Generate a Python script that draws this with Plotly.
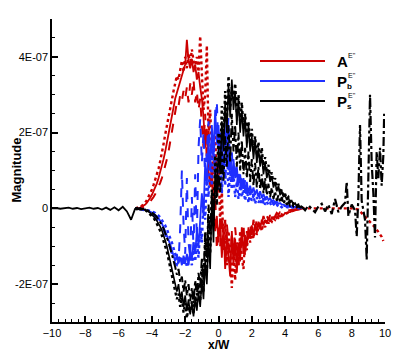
import numpy as np
import plotly.graph_objects as go

# ---------------- data (values in units of 1E-07) ----------------
X_ACTIVE = np.round(np.linspace(-5, 5, 101), 1)

A_SOLID = [0.0, 0.0, 0.01, 0.02, 0.04, 0.07, 0.1, 0.15, 0.2, 0.28,
           0.36, 0.45, 0.55, 0.66, 0.8, 0.95, 1.1, 1.3, 1.5, 1.75,
           2.0, 2.2, 2.45, 2.7, 2.9, 3.05, 3.2, 3.35, 3.5, 3.7,
           3.8, 4.45, 3.9, 3.7, 3.95, 3.6, 3.8, 3.4, 3.6, 3.2,
           2.9, 2.4, 1.6, 2.1, 1.0, 0.6, 1.2, 0.1, -0.6, -0.2,
           -0.9, -0.3, -1.3, -0.5, -1.6, -0.7, -1.2, -1.8, -0.6, -1.5,
           -0.8, -1.7, -0.9, -1.4, -0.5, -1.2, -0.7, -1.0, -0.5, -0.8,
           -0.45, -0.75, -0.4, -0.65, -0.35, -0.55, -0.3, -0.45, -0.3, -0.4,
           -0.25, -0.35, -0.22, -0.3, -0.2, -0.26, -0.18, -0.22, -0.15, -0.18,
           -0.12, -0.14, -0.1, -0.1, -0.07, -0.06, -0.05, -0.04, -0.03, -0.02, -0.01]

A_DOT = [0.0, 0.01, 0.02, 0.04, 0.07, 0.1, 0.15, 0.22, 0.3, 0.4,
         0.5, 0.62, 0.75, 0.9, 1.05, 1.25, 1.45, 1.7, 1.95, 2.2,
         2.45, 2.65, 2.9, 3.1, 3.3, 3.5, 3.4, 3.7, 3.9, 3.6,
         4.0, 3.7, 4.1, 3.8, 4.2, 3.9, 3.7, 4.0, 3.6, 4.55,
         3.3, 2.6, 3.0, 4.3, 1.9, 2.6, 1.5, 0.9, 2.1, 0.4,
         1.2, -0.4, 0.5, -1.1, -0.3, -1.5, -0.6, -1.1, -2.1, -1.0,
         -1.9, -0.9, -1.5, -0.6, -1.3, -1.6, -0.7, -1.1, -0.6, -0.9,
         -0.6, -0.8, -0.45, -0.7, -0.5, -0.4, -0.6, -0.35, -0.5, -0.3,
         -0.4, -0.3, -0.35, -0.25, -0.3, -0.22, -0.25, -0.18, -0.2, -0.15,
         -0.14, -0.12, -0.1, -0.08, -0.07, -0.05, -0.04, -0.03, -0.02, -0.02, 0.0]

A_DASH = [0.0, 0.0, 0.0, 0.01, 0.02, 0.04, 0.06, 0.09, 0.13, 0.18,
          0.24, 0.3, 0.38, 0.47, 0.57, 0.68, 0.8, 0.95, 1.1, 1.3,
          1.5, 1.75, 2.0, 2.3, 2.6, 2.8, 2.7, 3.0, 2.85, 3.1,
          2.9, 3.2, 2.8, 3.3, 3.0, 3.4, 2.8, 3.1, 2.6, 2.9,
          2.2, 1.6, 2.5, 1.2, 1.8, 0.5, 1.1, -0.3, 0.4, -1.1,
          -0.5, -1.0, -0.2, -0.8, -1.3, -0.4, -0.9, -1.4, -0.7, -1.2,
          -0.5, -1.1, -1.5, -0.7, -1.0, -0.4, -1.3, -0.6, -0.9, -0.4,
          -0.7, -0.3, -0.6, -0.25, -0.5, -0.3, -0.4, -0.2, -0.35, -0.2,
          -0.3, -0.18, -0.25, -0.15, -0.2, -0.12, -0.16, -0.1, -0.12, -0.08,
          -0.08, -0.06, -0.05, -0.04, -0.03, -0.02, -0.02, -0.01, -0.01, 0.0, 0.0]

X_A_TAIL = [5.0, 6.0, 7.0, 8.0, 8.4, 8.6, 8.8, 9.0, 9.2, 9.4, 9.6, 9.8, 9.9]
A_TAIL = [0.0, 0.0, 0.0, 0.0, -0.03, -0.12, -0.22, -0.3, -0.4, -0.5, -0.62, -0.75, -0.86]

PB_SOLID = [0.0, 0.0, -0.01, -0.01, -0.02, -0.03, -0.04, -0.05, -0.07, -0.09,
            -0.11, -0.14, -0.17, -0.21, -0.26, -0.32, -0.4, -0.5, -0.6, -0.7,
            -0.82, -0.95, -1.1, -1.25, -1.4, -1.2, -1.45, -1.3, -1.5, -1.25,
            -1.45, -1.2, -1.5, -1.1, -1.35, -0.9, -1.2, -0.6, -1.0, -0.3,
            0.4, -0.2, 1.2, 0.6, 1.8, 1.0, 2.2, 1.4, 2.6, 1.7,
            2.2, 1.2, 1.9, 0.9, 1.6, 2.4, 1.0, 1.5, 0.7, 1.3,
            0.8, 1.1, 0.6, 0.9, 0.5, 0.8, 0.45, 0.7, 0.4, 0.6,
            0.4, 0.55, 0.35, 0.5, 0.3, 0.45, 0.28, 0.38, 0.25, 0.32,
            0.22, 0.27, 0.18, 0.22, 0.15, 0.18, 0.12, 0.14, 0.1, 0.1,
            0.08, 0.08, 0.06, 0.06, 0.05, 0.04, 0.03, 0.03, 0.02, 0.02, 0.01]

PB_DASH = [0.0, -0.01, -0.01, -0.02, -0.03, -0.04, -0.05, -0.07, -0.09, -0.12,
           -0.15, -0.18, -0.22, -0.27, -0.33, -0.4, -0.48, -0.57, -0.68, -0.8,
           -0.92, -1.05, -1.2, -1.32, -1.45, -1.5, -1.4, -0.5, 1.0, -0.4,
           -1.2, 0.8, -0.9, -1.3, 0.3, -1.1, 0.9, -0.8, 1.6, 2.35,
           1.2, 2.0, 0.8, 1.5, 2.3, 1.0, 2.0, 1.3, 2.2, 2.83,
           1.4, 2.0, 1.1, 1.7, 0.8, 1.4, 2.4, 0.9, 1.5, 0.7,
           1.2, 0.6, 1.0, 0.5, 0.9, 0.4, 0.75, 0.4, 0.6, 0.35,
           0.55, 0.3, 0.45, 0.28, 0.4, 0.22, 0.35, 0.2, 0.28, 0.18,
           0.24, 0.15, 0.2, 0.12, 0.16, 0.1, 0.12, 0.08, 0.09, 0.06,
           0.06, 0.05, 0.04, 0.04, 0.03, 0.03, 0.02, 0.02, 0.01, 0.01, 0.0]

PB_DOT = [0.0, 0.0, 0.0, -0.01, -0.01, -0.02, -0.03, -0.04, -0.05, -0.06,
          -0.08, -0.1, -0.12, -0.15, -0.19, -0.24, -0.3, -0.37, -0.45, -0.55,
          -0.66, -0.78, -0.9, -1.05, -1.2, -1.35, -1.25, -1.4, -1.3, -1.5,
          -1.3, -1.55, -1.4, -1.25, -1.5, -1.1, -1.4, -0.9, -1.3, -0.5,
          -0.9, 0.2, -0.3, 0.9, 0.3, 1.5, 0.6, 1.9, 0.8, 1.3,
          0.5, 1.7, 0.4, 1.2, 0.6, 1.9, 0.3, 1.0, 0.5, 0.9,
          0.3, 0.7, 0.25, 0.6, 0.3, 0.5, 0.2, 0.55, 0.15, 0.4,
          0.2, 0.35, 0.12, 0.3, 0.15, 0.25, 0.1, 0.22, 0.1, 0.18,
          0.08, 0.14, 0.06, 0.12, 0.05, 0.1, 0.04, 0.07, 0.03, 0.05,
          0.03, 0.04, 0.02, 0.03, 0.02, 0.02, 0.01, 0.01, 0.01, 0.0, 0.0]

PS_SOLID = [0.0, 0.02, -0.02, 0.01, -0.03, -0.02, -0.05, -0.06, -0.09, -0.12,
            -0.16, -0.2, -0.26, -0.33, -0.4, -0.48, -0.58, -0.7, -0.85, -1.0,
            -1.2, -1.4, -1.6, -1.8, -1.95, -2.2, -2.0, -2.4, -2.2, -2.6,
            -2.3, -2.7, -2.4, -2.8, -2.5, -2.85, -2.4, -2.7, -2.2, -2.6,
            -1.9, -2.4, -1.4, -2.0, -0.8, -1.6, 0.2, -0.9, 1.0, 0.3,
            1.6, 0.9, 2.3, 1.5, 2.8, 2.0, 3.3, 2.4, 3.4, 2.6,
            3.1, 2.2, 2.9, 2.0, 2.6, 1.9, 2.4, 1.6, 2.2, 1.5,
            1.9, 1.3, 1.8, 1.2, 1.6, 1.1, 1.4, 0.9, 1.2, 0.8,
            1.0, 0.7, 0.85, 0.55, 0.7, 0.45, 0.6, 0.35, 0.45, 0.3,
            0.35, 0.22, 0.28, 0.15, 0.2, 0.1, 0.14, 0.06, 0.1, 0.04, 0.05]

PS_DOT = [0.01, -0.02, 0.02, -0.03, -0.02, -0.05, -0.04, -0.08, -0.11, -0.15,
          -0.2, -0.25, -0.32, -0.4, -0.5, -0.6, -0.72, -0.86, -1.0, -1.15,
          -1.35, -1.55, -1.75, -2.0, -2.15, -2.4, -2.25, -2.6, -2.35, -2.75,
          -2.5, -2.9, -2.6, -2.75, -2.45, -2.8, -2.3, -2.55, -2.0, -2.45,
          -1.6, -2.2, -0.9, -1.7, -0.3, -1.2, 0.5, -0.5, 1.4, 0.6,
          2.0, 1.2, 2.7, 1.8, 3.1, 2.3, 3.5, 2.6, 3.2, 2.9,
          3.3, 2.5, 3.0, 2.3, 2.8, 2.1, 2.5, 1.9, 2.3, 1.7,
          2.1, 1.5, 1.9, 1.4, 1.75, 1.2, 1.6, 1.05, 1.35, 0.95,
          1.15, 0.8, 0.95, 0.65, 0.8, 0.5, 0.65, 0.4, 0.5, 0.32,
          0.38, 0.25, 0.3, 0.18, 0.22, 0.12, 0.15, 0.08, 0.1, 0.05, 0.06]

PS_DASHDOT = [0.0, 0.01, -0.01, 0.0, -0.02, -0.01, -0.03, -0.04, -0.06, -0.08,
              -0.11, -0.14, -0.18, -0.23, -0.29, -0.36, -0.44, -0.53, -0.64, -0.76,
              -0.9, -1.05, -1.2, -1.4, -1.55, -1.75, -1.6, -1.95, -1.8, -2.2,
              -1.9, -2.3, -2.0, -2.45, -2.1, -2.5, -1.9, -2.3, -1.7, -2.1,
              -1.3, -1.9, -0.6, -1.3, 0.1, -0.6, 0.3, -0.2, 0.6, 0.1,
              0.9, 0.4, 1.5, 0.7, 1.9, 1.1, 2.2, 1.2, 2.5, 1.5,
              2.2, 1.1, 2.0, 1.0, 1.8, 0.9, 1.6, 0.8, 1.5, 0.7,
              1.3, 0.6, 1.2, 0.55, 1.1, 0.5, 0.9, 0.4, 0.8, 0.35,
              0.65, 0.3, 0.55, 0.25, 0.45, 0.2, 0.35, 0.15, 0.3, 0.12,
              0.22, 0.1, 0.16, 0.07, 0.12, 0.05, 0.08, 0.03, 0.05, 0.02, 0.02]

X_PS_LEFT = [-10.0, -9.75, -9.5, -9.25, -9.0, -8.75, -8.5, -8.25, -8.0, -7.75, -7.5,
             -7.25, -7.0, -6.75, -6.5, -6.25, -6.0, -5.75, -5.5, -5.25, -5.0]
PS_LEFT = [0.0, 0.01, -0.01, 0.0, 0.02, -0.01, 0.01, -0.02, 0.0, 0.02, -0.01,
           0.01, -0.03, 0.02, -0.04, 0.03, -0.05, 0.04, -0.08, -0.3, 0.0]

X_PS_RIGHT = [5.0, 5.2, 5.4, 5.6, 5.8, 6.0, 6.2, 6.4, 6.6, 6.8, 7.0, 7.2, 7.4, 7.6, 7.7,
              7.8, 8.0, 8.2, 8.3, 8.4, 8.5, 8.6, 8.8, 8.9, 9.0, 9.1, 9.2, 9.3, 9.4,
              9.5, 9.6, 9.7, 9.8, 9.9, 9.95]
PS_RIGHT = [0.05, -0.05, 0.08, 0.0, -0.1, 0.05, 0.12, -0.08, 0.1, -0.15, 0.25, -0.1, 0.05,
            0.15, 0.7, -0.2, 0.1, -0.05, -0.74, 0.3, 2.2, 0.2, -0.3, -1.35, 0.5, 3.0, 1.2,
            0.4, -0.77, 1.5, 0.8, 1.6, 0.6, 1.4, 2.5]

Y_TICKS = [-2, 0, 2, 4]
Y_TICK_TEXT = ["-2E-07", "0", "2E-07", "4E-07"]

RED = "#cc0000"
BLUE = "#1f2fff"
BLACK = "#000000"

fig = go.Figure()

def add(x, y, color, dash, width=2.0):
    fig.add_trace(go.Scatter(x=list(x), y=y, mode="lines",
                             line=dict(color=color, dash=dash, width=width),
                             showlegend=False, hoverinfo="skip"))

add(X_ACTIVE, A_DASH, RED, "dash")
add(X_ACTIVE, A_SOLID, RED, "solid", 1.8)
add(X_ACTIVE, A_DOT, RED, "dot", 2.4)
add(X_A_TAIL, A_TAIL, RED, "dot", 2.4)

add(X_ACTIVE, PB_DOT, BLUE, "dot", 2.4)
add(X_ACTIVE, PB_SOLID, BLUE, "solid", 1.8)
add(X_ACTIVE, PB_DASH, BLUE, "dash")

add(X_ACTIVE, PS_DASHDOT, BLACK, "dashdot")
add(X_ACTIVE, PS_SOLID, BLACK, "solid", 1.6)
add(X_ACTIVE, PS_DOT, BLACK, "dot", 2.4)
add(X_PS_LEFT, PS_LEFT, BLACK, "solid", 1.8)
add(X_PS_RIGHT, PS_RIGHT, BLACK, "dashdot", 2.2)

# page has an 8px body margin around the figure
OFF = 8
W, H = 407, 362
L, T = 52 - OFF, 19 - OFF
R = W - (385 - OFF)
B = H - (322 - OFF)
pw, ph = W - L - R, H - T - B

def px(xp):
    return (xp - OFF - L) / pw

def py(yp):
    return (H - B - (yp - OFF)) / ph

# legend drawn in paper space (positions in page pixels)
legend_items = [(61, RED, "A", None), (81, BLUE, "P", "b"), (101, BLACK, "P", "s")]
shapes, annotations = [], []
for yy, col, main, sub in legend_items:
    shapes.append(dict(type="line", xref="paper", yref="paper", x0=px(260), x1=px(325),
                       y0=py(yy), y1=py(yy), line=dict(color=col, width=2)))
    annotations.append(dict(xref="paper", yref="paper", x=px(336), y=py(yy), xanchor="left",
                            yanchor="middle", text="<b>%s</b>" % main, showarrow=False,
                            borderpad=0, font=dict(size=15, color="black")))
    annotations.append(dict(xref="paper", yref="paper", x=px(347), y=py(yy - 6), xanchor="left",
                            yanchor="middle", text="E''", showarrow=False,
                            borderpad=0, font=dict(size=7, color="black")))
    if sub:
        annotations.append(dict(xref="paper", yref="paper", x=px(346), y=py(yy + 5.5), xanchor="left",
                                yanchor="middle", text="<b>%s</b>" % sub, showarrow=False,
                                borderpad=0, font=dict(size=8, color="black")))

# axis titles
annotations.append(dict(xref="paper", yref="paper", x=0.5, y=py(345), xanchor="center",
                        yanchor="middle", text="<b>x/W</b>", showarrow=False,
                        borderpad=0, font=dict(size=12, color="black")))
annotations.append(dict(xref="paper", yref="paper", x=px(16), y=0.5, xanchor="center",
                        yanchor="middle", text="<b>Magnitude</b>", showarrow=False,
                        borderpad=0, textangle=-90, font=dict(size=13, color="black")))

fig.update_layout(
    width=W, height=H,
    margin=dict(l=L, r=R, t=T, b=B),
    paper_bgcolor="white", plot_bgcolor="white",
    font=dict(family="Liberation Sans, Arial, sans-serif", color="black"),
    showlegend=False,
    shapes=shapes, annotations=annotations,
    xaxis=dict(range=[-10, 10], tickmode="linear", tick0=-10, dtick=2,
               ticks="inside", ticklen=6, tickwidth=1.5, tickcolor="black",
               showline=True, linecolor="black", linewidth=1.5,
               showgrid=False, zeroline=False, automargin=False,
               tickfont=dict(size=11),
               minor=dict(tick0=-10, dtick=0.4, ticks="inside", ticklen=3,
                          tickcolor="black", tickwidth=1, showgrid=False)),
    yaxis=dict(range=[-3, 5], tickmode="array", tickvals=Y_TICKS, ticktext=Y_TICK_TEXT,
               ticks="inside", ticklen=6, tickwidth=1.5, tickcolor="black",
               showline=True, linecolor="black", linewidth=1.5,
               showgrid=False, zeroline=False, automargin=False,
               tickfont=dict(size=11),
               minor=dict(tick0=0, dtick=0.5, ticks="inside", ticklen=3,
                          tickcolor="black", tickwidth=1, showgrid=False)),
)

fig.write_html("out.html")
